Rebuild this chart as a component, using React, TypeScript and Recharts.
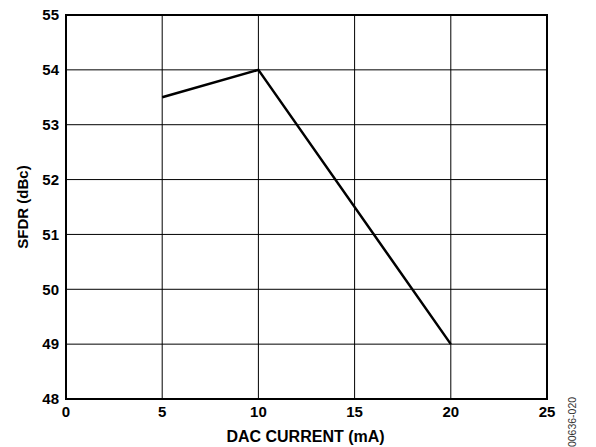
import React from "react";
import {
  LineChart,
  Line,
  XAxis,
  YAxis,
  CartesianGrid,
  ReferenceArea,
  Label,
} from "recharts";

const currents = [5, 10, 20];
const sfdr = [53.5, 54, 49];
const xTicks = [0, 5, 10, 15, 20, 25];
const yTicks = [48, 49, 50, 51, 52, 53, 54, 55];

const data = currents.map((c, i) => ({ current: c, sfdr: sfdr[i] }));

const FONT = "'Liberation Sans', Arial, sans-serif";
const tickStyle = { fill: "#000", fontSize: 15, fontWeight: 700, fontFamily: FONT };

const App: React.FC = () => {
  return (
    <div style={{ position: "absolute", left: 0, top: 0, background: "#fff" }}>
      <LineChart
        width={596}
        height={447}
        data={data}
        margin={{ top: 15, right: 49, bottom: 0, left: 0 }}
      >
        <CartesianGrid stroke="#000" strokeWidth={1} />
        <XAxis
          dataKey="current"
          type="number"
          domain={[0, 25]}
          ticks={xTicks}
          height={48}
          tickSize={0}
          tickMargin={7}
          axisLine={false}
          tick={tickStyle}
          interval={0}
        >
          <Label
            content={({ viewBox }: any) => (
              <text
                x={viewBox.x + viewBox.width / 2 - 1}
                y={442}
                textAnchor="middle"
                fontFamily={FONT}
                fontWeight={700}
                fontSize={16}
                fill="#000"
              >
                DAC CURRENT (mA)
              </text>
            )}
          />
          <Label
            content={({ viewBox }: any) => (
              <text
                transform={`translate(${viewBox.x + viewBox.width + 29}, 422) rotate(-90)`}
                textAnchor="middle"
                fontFamily={FONT}
                fontSize={10.5}
                fill="#333"
              >
                00636-020
              </text>
            )}
          />
        </XAxis>
        <YAxis
          type="number"
          domain={[48, 55]}
          ticks={yTicks}
          width={66}
          tickSize={0}
          tickMargin={7}
          axisLine={false}
          tick={tickStyle}
          interval={0}
        >
          <Label
            content={({ viewBox }: any) => (
              <text
                transform={`translate(28, ${viewBox.y + viewBox.height / 2}) rotate(-90)`}
                textAnchor="middle"
                fontFamily={FONT}
                fontWeight={700}
                fontSize={15}
                fill="#000"
              >
                SFDR (dBc)
              </text>
            )}
          />
        </YAxis>
        <ReferenceArea
          x1={0}
          x2={25}
          y1={48}
          y2={55}
          fill="none"
          fillOpacity={0}
          stroke="#000"
          strokeWidth={2}
        />
        <Line
          type="linear"
          dataKey="sfdr"
          stroke="#000"
          strokeWidth={2.5}
          dot={false}
          activeDot={false}
          isAnimationActive={false}
        />
      </LineChart>
    </div>
  );
};

export default App;
